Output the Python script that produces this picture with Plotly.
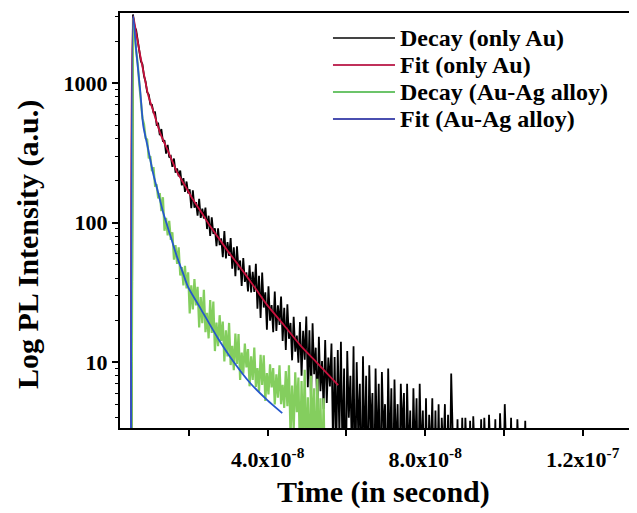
import plotly.graph_objects as go

# ---------------- data (time in ns, intensity in counts) ----------------
# Both decays are histograms on a 0.4 ns bin grid starting at 4.2 ns
bin_t0_ns = 4.2
bin_step_ns = 0.4

decay_au = [1, 1, 1, 1,
            3100, 2523, 2399, 1968, 1750, 1435, 1361, 1122, 1021, 859,
            828, 703, 700, 615, 617, 504, 511, 423, 468, 380,
            389, 312, 361, 293, 299, 251, 288, 228, 244, 215,
            236, 185, 208, 166, 197, 162,
            173, 127, 170, 128, 140, 112, 148, 108, 126, 107,
            128, 89.9, 112, 80.2, 109, 83.0, 91.0, 67.8, 91.0, 69.0,
            77.1, 56.4, 86.9, 55.3, 72.4, 57.7, 77.4, 46.8, 66.5, 41.3,
            67.5, 45.6, 53.5, 35.1, 55.7, 37.6, 44.0, 32.1, 49.5, 31.6,
            44.3, 31.9, 50.6, 24.1, 41.5, 20.7, 43.8, 24.6, 31.7, 17.1,
            34.9, 19.8, 25.6, 16.4, 32.1, 16.7, 25.5, 18.5, 29.5, 14.2,
            24.5, 12.2, 26.0, 14.7, 19.1, 10.3, 21.1, 11.9, 15.5, 9.9,
            19.4, 8.0, 16.8, 10.4, 21.2, 6.6, 16.9, 5.3, 19.0, 8.2,
            12.7, 4.4, 15.2, 6.2, 10.2, 4.6, 14.4, 5.1, 10.8, 6.7,
            13.6, 2.4, 10.9, 2.2, 12.2,
            3, 14, 2, 9, 1, 12, 4, 8, 2, 13,
            1, 10, 3, 7, 1, 11, 2, 8, 1, 9.5,
            3, 6, 1, 9, 2, 7, 1, 8.5, 3, 5,
            1, 9, 2, 6.5, 1, 7.5, 2, 5, 1, 7,
            3, 6, 1, 7, 2, 4.5, 1, 6.5, 2, 5.5,
            1, 7, 2, 4.5, 1, 5.5, 1, 4.2, 2, 5.5,
            1, 4.5, 1, 5, 1, 4, 2, 5, 1, 4.2,
            1, 8.3,
            1, 1, 1, 3.9, 1, 1, 4.0, 1, 4.0, 1,
            1, 3.8, 1, 4.1, 1, 1, 1, 1, 3.9, 1,
            4.0, 1, 1, 4.2, 1, 1, 1, 3.9, 1, 1,
            4.3, 1, 1, 5.0, 1, 1, 1, 4.0, 1, 1,
            1, 3.9, 1, 1, 1, 1, 3.8, 1]

decay_auag = [1, 1, 1, 1,
              2911, 2388, 1694, 1380, 977, 778, 560, 508, 403, 394,
              288, 299, 234, 250, 184, 185, 149, 163,
              121, 152, 87.3, 108, 81.1, 103, 75.3, 85.3, 54.3, 69.0,
              50.5, 66.4, 41.8, 47.9, 35.5, 48.9, 33.7, 44.0,
              22.3, 35.5, 23.9, 39.4, 25.5, 34.6, 17.7, 29.3, 19.0, 33.0,
              16.4, 22.6, 14.8, 27.9, 16.2, 27.2, 12.0, 19.2, 13.0, 21.7,
              14.2, 19.5, 10.1, 16.9, 11.0, 19.1, 9.53, 13.1,
              8.75, 16.0, 9.7, 15.9, 7.45, 11.7, 8.26, 13.6, 9.18, 12.4,
              6.71, 11.0, 7.45, 12.7, 6.65, 9.08, 6.15, 11.3, 6.85, 11.2,
              5.27, 8.34, 5.87, 9.66, 6.58, 9.06, 4.97, 8.17, 5.56, 9.48,
              4.99, 6.87, 4.70, 8.63, 4.84, 9.48,
              2.95, 6.79, 3.2, 8.45, 4.37, 7.76, 2.1, 7.33, 2.6, 8.81,
              2, 5.6, 1.5, 8.0, 3.0, 6.5, 1.5, 7.6, 2, 5.5,
              1.5, 5.5, 1]

# Fit (only Au)
fit_au_t_ns = [5.3, 5.84, 6.6, 7.62, 8.6, 9.65, 11.0, 12.7, 14.8, 17.0,
               19.0, 21.1, 23.2, 25.4, 27.5, 29.7, 32.0, 34.3, 37.0, 39.9,
               44.0, 48.3, 52.6, 57.9]
fit_au = [3.0, 3020, 2290, 1587, 1150, 820, 622, 438, 320, 230,
          184, 145, 118, 94, 77.8, 63.5, 52.1, 42.7, 33.4, 25.6,
          18.6, 13.2, 9.85, 6.84]

# Fit (Au-Ag alloy)
fit_auag_t_ns = [5.3, 5.84, 6.6, 7.62, 8.38, 9.6, 10.9, 12.2, 13.5, 15.2,
                 17.0, 18.4, 19.8, 22.9, 27.2, 31.2, 35.6, 39.9, 43.7]
fit_auag = [3.0, 3020, 1725, 891, 500, 341, 226, 163, 117, 82.2,
            56.6, 44.2, 34.5, 24.4, 15.1, 10.2, 7.06, 5.34, 4.31]

legend_names = ["Decay (only Au)", "Fit (only Au)", "Decay (Au-Ag alloy)", "Fit (Au-Ag alloy)"]
legend_colors = ["#444444", "#C0305A", "#6CC46A", "#4A4FB0"]

x_title = "Time (in second)"
y_title = "Log PL Intensity (a.u.)"
x_major_vals = [4e-8, 8e-8, 1.2e-7]
x_major_text = ["4.0x10<sup>-8</sup>", "8.0x10<sup>-8</sup>", "1.2x10<sup>-7</sup>"]
x_minor_vals = [2e-8, 6e-8, 1.0e-7]
y_tick_vals = [10, 100, 1000]
y_tick_text = ["10", "100", "1000"]
y_minor_vals = [4, 5, 6, 7, 8, 9, 20, 30, 40, 50, 60, 70, 80, 90,
                200, 300, 400, 500, 600, 700, 800, 900, 2000, 3000]

# ---------------- build ----------------
NS = 1e-9
t_au = [(bin_t0_ns + bin_step_ns * i) * NS for i in range(len(decay_au))]
t_auag = [(bin_t0_ns + bin_step_ns * i) * NS for i in range(len(decay_auag))]

FONT = "Liberation Serif"
fig = go.Figure()
fig.add_trace(go.Scatter(x=t_au, y=decay_au, mode="lines", name=legend_names[0],
                         line=dict(color="black", width=1.8)))
fig.add_trace(go.Scatter(x=t_auag, y=decay_auag, mode="lines", name=legend_names[2],
                         line=dict(color="#84CE5E", width=2.2)))
fig.add_trace(go.Scatter(x=[v * NS for v in fit_au_t_ns], y=fit_au, mode="lines", name=legend_names[1],
                         line=dict(color="#C8103C", width=1.8, shape="spline", smoothing=0.6)))
fig.add_trace(go.Scatter(x=[v * NS for v in fit_auag_t_ns], y=fit_auag, mode="lines", name=legend_names[3],
                         line=dict(color="#2557CC", width=1.8, shape="spline", smoothing=0.6)))

# legend drawn inside the plot box (paper coordinates)
leg_rows_y = [0.9398, 0.8747, 0.8096, 0.7446]
for name, col, yy in zip(legend_names, legend_colors, leg_rows_y):
    fig.add_shape(type="line", xref="paper", yref="paper", x0=0.4176, x1=0.5392, y0=yy, y1=yy,
                  line=dict(color=col, width=2))
    fig.add_annotation(xref="paper", yref="paper", x=0.545, y=yy, text=name, showarrow=False,
                       xanchor="left", yanchor="middle",
                       font=dict(family=FONT, size=24, color="black", weight="bold"))

# axis titles
fig.add_annotation(xref="paper", yref="paper", x=0.5176, y=-0.154, text=x_title, showarrow=False,
                   xanchor="center", yanchor="middle",
                   font=dict(family=FONT, size=30, color="black", weight="bold"))
fig.add_annotation(xref="paper", yref="paper", x=-0.1804, y=0.4434, text=y_title, showarrow=False,
                   textangle=-90, xanchor="center", yanchor="middle",
                   font=dict(family=FONT, size=30, color="black", weight="bold"))

fig.update_layout(
    width=629, height=505,
    margin=dict(l=112, r=7, t=5, b=85),
    paper_bgcolor="white", plot_bgcolor="white",
    font=dict(family=FONT, color="black", size=21, weight="bold"),
    showlegend=False,
)
fig.update_xaxes(
    range=[2.5e-9, 1.32e-7], automargin=False,
    tickmode="array", tickvals=x_major_vals, ticktext=x_major_text,
    ticks="outside", ticklen=6, tickwidth=2, tickcolor="black", ticklabelstandoff=5,
    minor=dict(tickmode="array", tickvals=x_minor_vals, ticks="outside", ticklen=6,
               tickwidth=2, tickcolor="black", showgrid=False),
    showline=True, linecolor="black", linewidth=2, mirror=True,
    showgrid=False, zeroline=False,
    tickfont=dict(family=FONT, size=22, weight="bold"),
)
fig.update_yaxes(
    type="log", range=[0.528, 3.502], automargin=False,
    tickmode="array", tickvals=y_tick_vals, ticktext=y_tick_text,
    ticks="outside", ticklen=6, tickwidth=2, tickcolor="black",
    minor=dict(tickmode="array", tickvals=y_minor_vals, ticks="outside", ticklen=3,
               tickwidth=1, tickcolor="black", showgrid=False),
    showline=True, linecolor="black", linewidth=2, mirror=True,
    showgrid=False, zeroline=False,
    tickfont=dict(family=FONT, size=22, weight="bold"),
)

fig.write_html("out.html")
